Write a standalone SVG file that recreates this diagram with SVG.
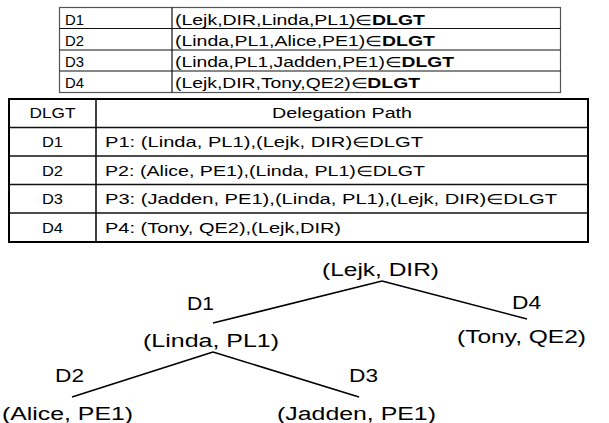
<svg xmlns="http://www.w3.org/2000/svg" width="609" height="423" viewBox="0 0 609 423">
<style>
.t{font-family:"Liberation Sans",Arial,sans-serif;font-size:14px;fill:#000}
.b{font-weight:bold}
.tr{font-family:"Liberation Sans",Arial,sans-serif;font-size:18px;fill:#000}
.g1{fill:none;stroke:#555;stroke-width:1.2}
.g1l{stroke:#111;stroke-width:1.2}
.g2{fill:none;stroke:#000;stroke-width:2}
.g2l{stroke:#111;stroke-width:1.6}
.edge{stroke:#000;stroke-width:1.6;fill:none}
</style>
<rect width="609" height="423" fill="#fff"/>
<g id="table1">
<rect class="g1" x="59.5" y="7.5" width="501" height="85"/>
<line class="g1l" x1="172" y1="7.5" x2="172" y2="92.5"/>
<line class="g1l" x1="59.5" y1="28.5" x2="560.5" y2="28.5"/>
<line class="g1l" x1="59.5" y1="50" x2="560.5" y2="50"/>
<line class="g1l" x1="59.5" y1="71" x2="560.5" y2="71"/>
<text class="t" x="65" y="24.5" textLength="19" lengthAdjust="spacingAndGlyphs">D1</text>
<text class="t" x="65" y="45.5" textLength="19" lengthAdjust="spacingAndGlyphs">D2</text>
<text class="t" x="65" y="67" textLength="19" lengthAdjust="spacingAndGlyphs">D3</text>
<text class="t" x="65" y="88" textLength="19" lengthAdjust="spacingAndGlyphs">D4</text>
<text class="t" x="175" y="24.5" textLength="250" lengthAdjust="spacingAndGlyphs">(Lejk,DIR,Linda,PL1)∈<tspan class="b">DLGT</tspan></text>
<text class="t" x="175" y="45.5" textLength="260" lengthAdjust="spacingAndGlyphs">(Linda,PL1,Alice,PE1)∈<tspan class="b">DLGT</tspan></text>
<text class="t" x="175" y="67" textLength="279" lengthAdjust="spacingAndGlyphs">(Linda,PL1,Jadden,PE1)∈<tspan class="b">DLGT</tspan></text>
<text class="t" x="175" y="88" textLength="245" lengthAdjust="spacingAndGlyphs">(Lejk,DIR,Tony,QE2)∈<tspan class="b">DLGT</tspan></text>
</g>
<g id="table2">
<rect class="g2" x="9" y="99" width="579" height="143"/>
<line class="g2l" x1="96" y1="99" x2="96" y2="242"/>
<line class="g2l" x1="9" y1="127.5" x2="588" y2="127.5"/>
<line class="g2l" x1="9" y1="156" x2="588" y2="156"/>
<line class="g2l" x1="9" y1="184.5" x2="588" y2="184.5"/>
<line class="g2l" x1="9" y1="213" x2="588" y2="213"/>
<text class="t" x="52.5" y="118" text-anchor="middle" textLength="46" lengthAdjust="spacingAndGlyphs">DLGT</text>
<text class="t" x="342" y="118" text-anchor="middle" textLength="140" lengthAdjust="spacingAndGlyphs">Delegation Path</text>
<text class="t" x="52.5" y="147" text-anchor="middle" textLength="21" lengthAdjust="spacingAndGlyphs">D1</text>
<text class="t" x="52.5" y="175.5" text-anchor="middle" textLength="21" lengthAdjust="spacingAndGlyphs">D2</text>
<text class="t" x="52.5" y="204" text-anchor="middle" textLength="21" lengthAdjust="spacingAndGlyphs">D3</text>
<text class="t" x="52.5" y="232.5" text-anchor="middle" textLength="21" lengthAdjust="spacingAndGlyphs">D4</text>
<text class="t" x="105" y="147" textLength="318" lengthAdjust="spacingAndGlyphs">P1: (Linda, PL1),(Lejk, DIR)∈DLGT</text>
<text class="t" x="105" y="175.5" textLength="320" lengthAdjust="spacingAndGlyphs">P2: (Alice, PE1),(Linda, PL1)∈DLGT</text>
<text class="t" x="105" y="204" textLength="452" lengthAdjust="spacingAndGlyphs">P3: (Jadden, PE1),(Linda, PL1),(Lejk, DIR)∈DLGT</text>
<text class="t" x="105" y="232.5" textLength="236" lengthAdjust="spacingAndGlyphs">P4: (Tony, QE2),(Lejk,DIR)</text>
</g>
<g id="connectors">
<line class="edge" x1="382" y1="281" x2="213" y2="323"/>
<line class="edge" x1="382" y1="281" x2="527" y2="319"/>
<line class="edge" x1="213" y1="352" x2="72" y2="397"/>
<line class="edge" x1="213" y1="352" x2="359" y2="397"/>
</g>
<g id="n-lejk"><text class="tr" x="322" y="276" textLength="117" lengthAdjust="spacingAndGlyphs">(Lejk, DIR)</text></g>
<g id="n-linda"><text class="tr" x="143" y="347" textLength="136" lengthAdjust="spacingAndGlyphs">(Linda, PL1)</text></g>
<g id="n-tony"><text class="tr" x="457" y="343" textLength="129" lengthAdjust="spacingAndGlyphs">(Tony, QE2)</text></g>
<g id="n-alice"><text class="tr" x="2" y="420" textLength="131" lengthAdjust="spacingAndGlyphs">(Alice, PE1)</text></g>
<g id="n-jadden"><text class="tr" x="277" y="420" textLength="159" lengthAdjust="spacingAndGlyphs">(Jadden, PE1)</text></g>
<g id="edge-labels">
<text class="tr" x="187" y="310" textLength="27" lengthAdjust="spacingAndGlyphs">D1</text>
<text class="tr" x="512" y="309" textLength="29" lengthAdjust="spacingAndGlyphs">D4</text>
<text class="tr" x="55" y="382" textLength="29" lengthAdjust="spacingAndGlyphs">D2</text>
<text class="tr" x="349" y="382" textLength="29" lengthAdjust="spacingAndGlyphs">D3</text>
</g>
</svg>
